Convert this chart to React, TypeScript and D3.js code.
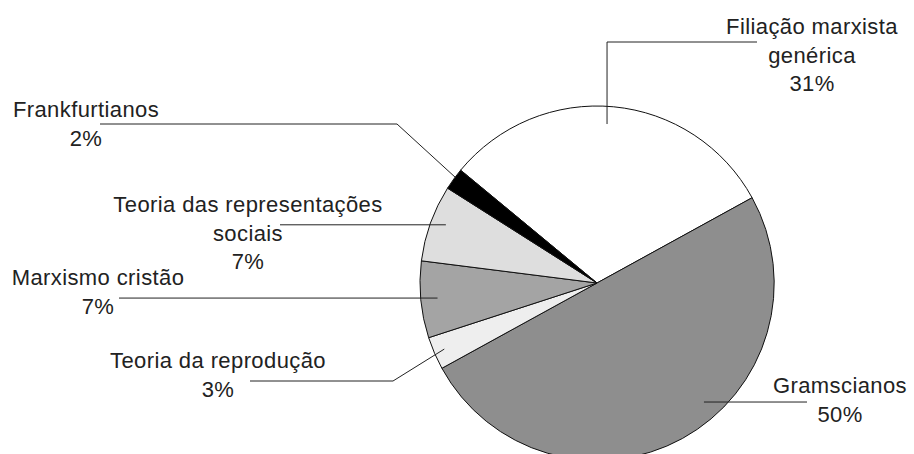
import React from "react";
import * as d3 from "d3";

const categories = [
  "Filiação marxista genérica",
  "Gramscianos",
  "Teoria da reprodução",
  "Marxismo cristão",
  "Teoria das representações sociais",
  "Frankfurtianos",
];
const values = [31, 50, 3, 7, 7, 2];
const percentLabels = ["31%", "50%", "3%", "7%", "7%", "2%"];
const labelLines = [
  ["Filiação marxista", "genérica", "31%"],
  ["Gramscianos", "50%"],
  ["Teoria da reprodução", "3%"],
  ["Marxismo cristão", "7%"],
  ["Teoria das representações", "sociais", "7%"],
  ["Frankfurtianos", "2%"],
];
const fills = ["#ffffff", "#8e8e8e", "#eeeeee", "#a4a4a4", "#dedede", "#000000"];

// layout (positions of labels and leader lines)
const W = 914, H = 454;
const CX = 597, CY = 283, R = 177;
const START = (-50.4 * Math.PI) / 180;
const LH = 28.5;
const layout = [
  { tx: 812, ty: 34, t: 0.484, rf: 0.9, pts: (p: number[]) => [[757, 42], [p[0], 42], p] },
  { tx: 840, ty: 393, t: 0.427, rf: 0.904, pts: (p: number[]) => [[807, p[1]], p] },
  { tx: 218, ty: 368, t: 0.5, rf: 0.94, pts: (p: number[]) => [[250, 381], [393, 381], p] },
  { tx: 98, ty: 285, t: 0.5, rf: 0.905, pts: (p: number[]) => [[119, p[1]], p] },
  { tx: 248, ty: 212, t: 0.55, rf: 0.915, pts: (p: number[]) => [[280, p[1]], p] },
  { tx: 86, ty: 117, t: 0.6, rf: 1.0, pts: (p: number[]) => [[100, 124], [397, 124], p] },
];

export default function App() {
  const pie = d3
    .pie<number>()
    .sort(null)
    .value((d) => d)
    .startAngle(START)
    .endAngle(START + 2 * Math.PI);
  const arcs = pie(values);
  const arc = d3.arc<d3.PieArcDatum<number>>().innerRadius(0).outerRadius(R);
  const line = d3.line();

  return (
    <svg
      width={W}
      height={H}
      style={{ position: "absolute", left: 0, top: 0, background: "#fff" }}
      fontFamily="'Liberation Sans', Arial, Helvetica, sans-serif"
    >
      <rect width={W} height={H} fill="#fff" />
      <g transform={`translate(${CX},${CY})`}>
        {arcs.map((a, i) => (
          <path
            key={categories[i]}
            d={arc(a) || ""}
            fill={fills[i]}
            stroke="#111"
            strokeWidth={1}
            strokeLinejoin="round"
          />
        ))}
      </g>
      {arcs.map((a, i) => {
        const L = layout[i];
        const ang = a.startAngle + (a.endAngle - a.startAngle) * L.t;
        const p = [CX + R * L.rf * Math.sin(ang), CY - R * L.rf * Math.cos(ang)];
        const pts = L.pts(p) as [number, number][];
        return (
          <path
            key={"l" + i}
            d={line(pts) || ""}
            fill="none"
            stroke="#222"
            strokeWidth={1}
          />
        );
      })}
      {labelLines.map((lines, i) => (
        <text
          key={"t" + i}
          x={layout[i].tx}
          y={layout[i].ty}
          textAnchor="middle"
          fontSize={22}
          letterSpacing={0.4}
          fill="#222"
        >
          {lines.map((s, j) => (
            <tspan key={j} x={layout[i].tx} y={layout[i].ty + j * LH}>
              {s}
            </tspan>
          ))}
        </text>
      ))}
    </svg>
  );
}
